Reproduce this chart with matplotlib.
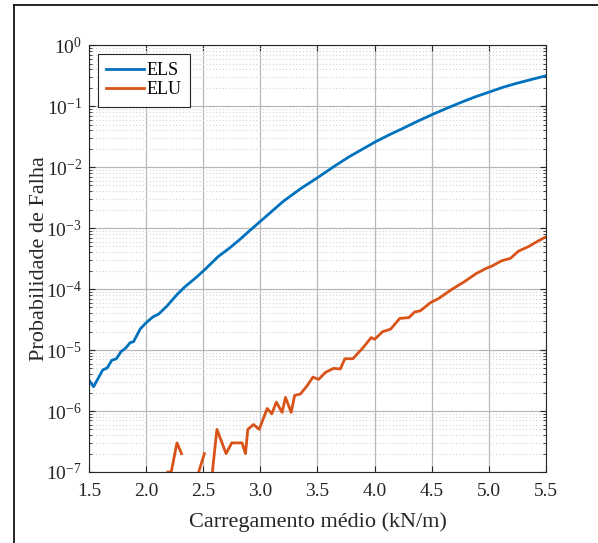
import numpy as np
import matplotlib
matplotlib.use("Agg")
import matplotlib.pyplot as plt
from matplotlib.lines import Line2D
from matplotlib.ticker import LogLocator, FormatStrFormatter, NullFormatter

plt.rcParams['font.family'] = ['Liberation Serif', 'DejaVu Serif']
plt.rcParams['mathtext.fontset'] = 'custom'
plt.rcParams['mathtext.rm'] = 'Liberation Serif'
plt.rcParams['mathtext.it'] = 'Liberation Serif:italic'

# ELS - estado limite de servico
els_x = [1.50, 1.54, 1.62, 1.66, 1.70, 1.74, 1.78, 1.82, 1.86, 1.89, 1.95,
         2.00, 2.06, 2.11, 2.18, 2.27, 2.34, 2.44, 2.52, 2.63, 2.73, 2.82,
         2.91, 3.00, 3.10, 3.20, 3.35, 3.51, 3.65, 3.78, 3.90, 4.01, 4.13,
         4.25, 4.38, 4.51, 4.63, 4.75, 4.88, 5.01, 5.12, 5.24, 5.37, 5.50]
els_y = [3.2e-6, 2.5e-6, 4.7e-6, 5.1e-6, 6.8e-6, 7.2e-6, 9.4e-6, 1.07e-5,
         1.32e-5, 1.37e-5, 2.24e-5, 2.8e-5, 3.5e-5, 3.9e-5, 5.2e-5, 8.1e-5,
         1.09e-4, 1.56e-4, 2.14e-4, 3.4e-4, 4.7e-4, 6.5e-4, 9.2e-4, 1.29e-3,
         1.88e-3, 2.74e-3, 4.4e-3, 6.9e-3, 1.04e-2, 1.49e-2, 2.0e-2, 2.62e-2,
         3.4e-2, 4.34e-2, 5.7e-2, 7.36e-2, 9.2e-2, 0.114, 0.142, 0.172,
         0.203, 0.236, 0.273, 0.315]

# ELU - estado limite ultimo (nan = nenhuma falha observada)
elu_x = [2.19, 2.22, 2.27, 2.31, 2.38, 2.46, 2.51, 2.55, 2.58, 2.62, 2.70,
         2.75, 2.84, 2.87, 2.89, 2.94, 2.99, 3.06, 3.10, 3.14, 3.19, 3.22,
         3.27, 3.30, 3.35, 3.41, 3.46, 3.51, 3.57, 3.64, 3.70, 3.74, 3.81,
         3.90, 3.97, 4.00, 4.07, 4.14, 4.22, 4.30, 4.35, 4.40, 4.49, 4.56,
         4.68, 4.78, 4.89, 4.98, 5.03, 5.11, 5.19, 5.26, 5.35, 5.40, 5.50]
elu_y = [1e-7, 1e-7, 3e-7, 2e-7, np.nan, 1e-7, 2e-7, np.nan, 1e-7, 5e-7, 2e-7,
         3e-7, 3e-7, 2e-7, 5e-7, 6e-7, 5e-7, 1.1e-6, 9e-7, 1.4e-6, 9.5e-7, 1.67e-6,
         9.5e-7, 1.8e-6, 1.9e-6, 2.6e-6, 3.6e-6, 3.3e-6, 4.3e-6, 5.0e-6, 4.9e-6,
         7.2e-6, 7.2e-6, 1.1e-5, 1.6e-5, 1.5e-5, 2.0e-5, 2.2e-5, 3.3e-5, 3.4e-5,
         4.2e-5, 4.4e-5, 6.0e-5, 7.0e-5, 1.0e-4, 1.3e-4, 1.8e-4, 2.2e-4, 2.4e-4,
         2.9e-4, 3.2e-4, 4.2e-4, 5.0e-4, 5.7e-4, 7.2e-4]

x_ticks = [1.5, 2.0, 2.5, 3.0, 3.5, 4.0, 4.5, 5.0, 5.5]

fig = plt.figure(figsize=(5.98, 5.43), dpi=100)
ax = fig.add_axes([0.1488, 0.1308, 0.7642, 0.786])

ax.plot(els_x, els_y, color="#0072BD", lw=2.0, label="ELS")
ax.plot(elu_x, elu_y, color="#D95319", lw=2.0, label="ELU")

ax.set_yscale("log")
ax.set_xlim(1.5, 5.5)
ax.set_ylim(1e-7, 1)
ax.set_xticks(x_ticks)
ax.xaxis.set_major_formatter(FormatStrFormatter("%.1f"))
ax.yaxis.set_major_locator(LogLocator(base=10, numticks=20))
ax.yaxis.set_minor_locator(LogLocator(base=10, subs=np.arange(2, 10), numticks=20))
ax.yaxis.set_minor_formatter(NullFormatter())

ax.grid(True, which="major", color="#b8b8b8", lw=0.9, ls="-")
ax.grid(True, which="minor", axis="y", color="#d4d4d4", lw=0.8, ls=(0, (1, 2)))
ax.set_axisbelow(True)

ax.tick_params(which="both", direction="in", top=True, right=True,
               labelsize=14, colors="#262626")
ax.tick_params(which="major", length=4)
ax.tick_params(which="minor", length=2)
ax.tick_params(axis="x", pad=8)
ax.tick_params(axis="y", pad=5)
for s in ax.spines.values():
    s.set_color("#262626")
    s.set_linewidth(0.8)

ax.set_xlabel("Carregamento médio (kN/m)", fontsize=16, color="#262626",
              labelpad=9)
ax.set_ylabel("Probabilidade de Falha", fontsize=16, color="#262626",
              labelpad=-2)

leg = ax.legend(loc="upper left", fontsize=13, fancybox=False,
                edgecolor="#262626", framealpha=1, borderaxespad=0.5,
                handlelength=2.1, handletextpad=0.15, borderpad=0.45,
                labelspacing=0.12)
leg.get_frame().set_linewidth(0.8)

# moldura da figura
fig.add_artist(Line2D([0.0234, 0.0234], [0, 0.9908], color="black", lw=1.2))
fig.add_artist(Line2D([0.0234, 1.0], [0.9908, 0.9908], color="black", lw=1.2))

fig.savefig("out.png", dpi=100)
